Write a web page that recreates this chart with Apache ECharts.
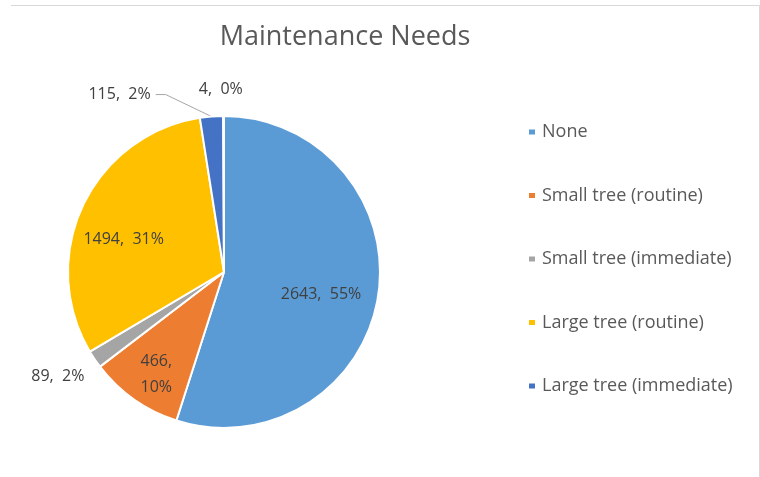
<!DOCTYPE html>
<html>
<head>
<meta charset="utf-8">
<script src="https://cdn.jsdelivr.net/npm/echarts@6/dist/echarts.min.js"></script>
<style>
html,body{margin:0;padding:0;background:#fff;}
#chart{width:760px;height:477px;}
</style>
</head>
<body>
<div id="chart"></div>
<script>
const categories = ["None", "Small tree (routine)", "Small tree (immediate)", "Large tree (routine)", "Large tree (immediate)", "(blank)"];
const values = [2643, 466, 89, 1494, 115, 4];
const legendNames = ["None", "Small tree (routine)", "Small tree (immediate)", "Large tree (routine)", "Large tree (immediate)"];
const colors = ["#5B9BD5", "#ED7D31", "#A5A5A5", "#FFC000", "#4472C4", "#70AD47"];

const labelOverrides = [
  { position: 'inside', offset: [17, 10] },
  { position: 'inside', offset: [-21, 36], formatter: '{c},\n{d}%' },
  { position: 'inside', offset: [-99, 59] },
  { position: 'inside', offset: [-27, 2] },
  { position: 'outside' },
  { position: 'inside', offset: [-3, -102] }
];
const lineOverrides = [
  { show: false }, { show: false }, { show: false }, { show: false },
  { show: true, length: 22, length2: 54, smooth: false, lineStyle: { color: '#A6A6A6', width: 1 } },
  { show: false }
];

const data = categories.map((n, i) => ({
  name: n,
  value: values[i],
  itemStyle: { color: colors[i] },
  label: labelOverrides[i],
  labelLine: lineOverrides[i]
}));

const FONT = 'Open Sans';
const chart = echarts.init(document.getElementById('chart'), null, { renderer: 'canvas' });
chart.setOption({
  animation: false,
  backgroundColor: '#fff',
  graphic: [{
    type: 'polyline',
    shape: { points: [[11, 5.5], [759.5, 5.5], [759.5, 477]] },
    style: { fill: 'none', stroke: '#D9D9D9', lineWidth: 1 },
    silent: true
  }],
  title: {
    text: 'Maintenance Needs',
    left: 345,
    textAlign: 'center',
    top: 24,
    padding: 0,
    textStyle: { fontFamily: FONT, fontSize: 27, fontWeight: 'normal', color: '#595959' }
  },
  legend: {
    orient: 'vertical',
    left: 527,
    top: 122,
    padding: 0,
    itemWidth: 8,
    itemHeight: 7,
    itemGap: 43.5,
    icon: 'rect',
    data: legendNames,
    textStyle: { fontFamily: FONT, fontSize: 18, color: '#595959', lineHeight: 20, padding: [0, 0, 0, 1] }
  },
  series: [{
    type: 'pie',
    center: [224, 272],
    radius: [0, 156],
    startAngle: 90,
    clockwise: true,
    percentPrecision: 0,
    avoidLabelOverlap: false,
    itemStyle: { borderColor: '#fff', borderWidth: 2 },
    label: {
      formatter: '{c},  {d}%',
      fontFamily: FONT,
      fontSize: 16,
      color: '#404040',
      lineHeight: 26
    },
    labelLayout: function (params) {
      if (params.dataIndex === 4 && params.labelLinePoints && params.labelLinePoints.length === 3) {
        const p = params.labelLinePoints;
        return { labelLinePoints: [p[0], [p[2][0] + 10, p[2][1]], p[2]] };
      }
      return {};
    },
    data: data
  }]
});
</script>
</body>
</html>
